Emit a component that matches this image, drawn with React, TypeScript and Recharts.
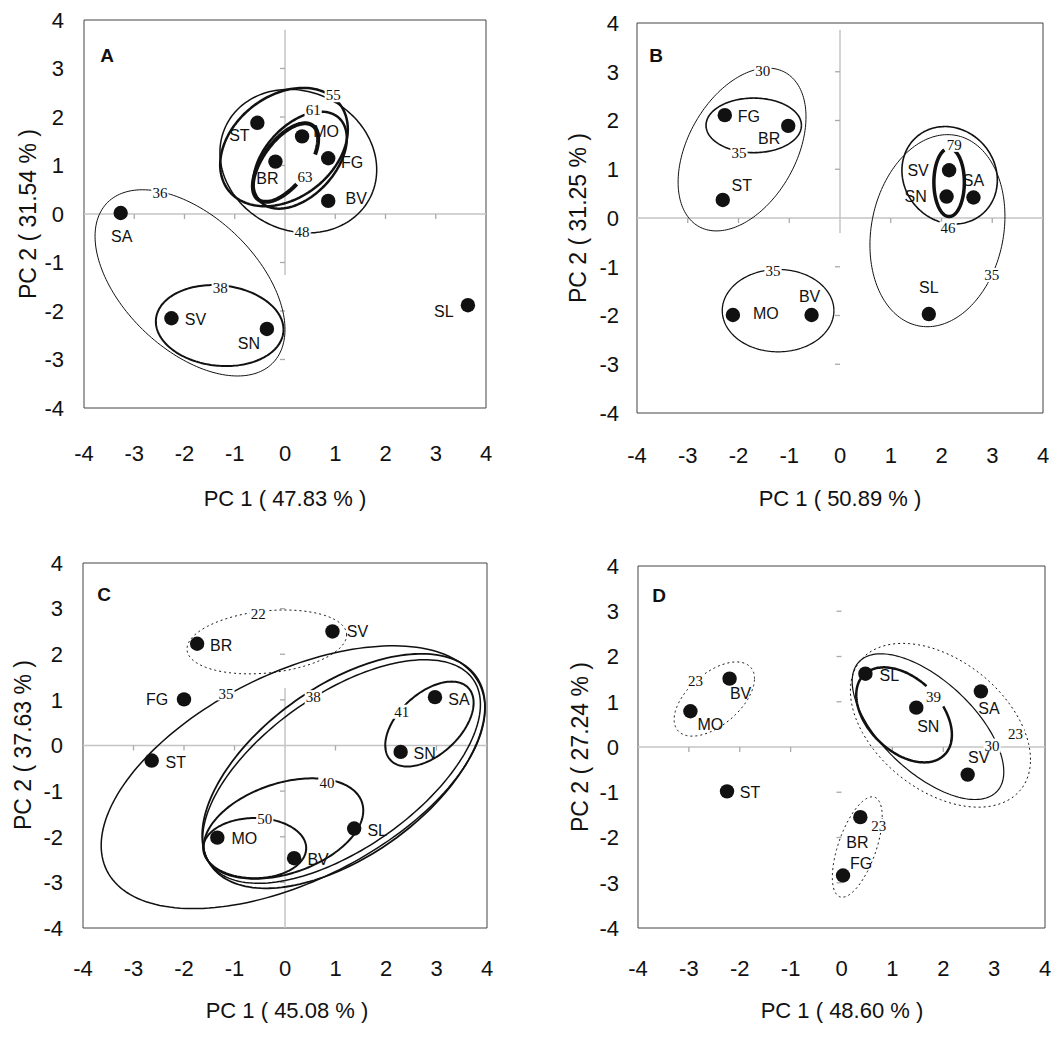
import React from 'react';
import { ScatterChart, Scatter, XAxis, YAxis, ReferenceArea, ReferenceLine } from 'recharts';

const TICKS = [-4, -3, -2, -1, 0, 1, 2, 3, 4];
const INNER_TICKS = [-3, -2, -1, 1, 2, 3];
const SANS = '"Liberation Sans", Arial, sans-serif';
const SERIF = '"Liberation Serif", "Times New Roman", serif';

// ---------- Panel A ----------
const A_names = ['ST', 'MO', 'BR', 'FG', 'BV', 'SA', 'SV', 'SN', 'SL'];
const A_pc1 = [-0.55, 0.34, -0.19, 0.86, 0.86, -3.27, -2.26, -0.36, 3.64];
const A_pc2 = [1.88, 1.6, 1.08, 1.15, 0.27, 0.02, -2.15, -2.37, -1.88];
const A_ellLabel = ['36', '38', '48', '55', '61', '63'];
const A_ellCx = [-1.89, -1.3, 0.265, -0.02, 0.3, 0.01];
const A_ellCy = [-1.42, -2.3, 1.09, 1.38, 1.11, 1.06];
const A_ellHw = [1.89, 1.27, 1.56, 1.27, 0.93, 0.65];
const A_ellHh = [1.92, 0.835, 1.48, 1.22, 1.0, 0.81];
const A_ellRho = [-0.5, -0.1, -0.12, 0.3, 0.45, 0.6];
const A_ellLx = [-2.49, -1.29, 0.34, 0.96, 0.56, 0.4];
const A_ellLy = [0.43, -1.52, -0.37, 2.45, 2.14, 0.77];

// ---------- Panel B ----------
const B_names = ['FG', 'BR', 'ST', 'MO', 'BV', 'SV', 'SN', 'SA', 'SL'];
const B_pc1 = [-2.27, -1.02, -2.31, -2.11, -0.56, 2.15, 2.1, 2.63, 1.75];
const B_pc2 = [2.11, 1.89, 0.37, -1.99, -1.99, 0.98, 0.44, 0.42, -1.97];
const B_ellLabel = ['30', '35', '35', '46', '79', '35'];
const B_ellCx = [-1.93, -1.7, -1.22, 2.16, 2.15, 1.92];
const B_ellCy = [1.405, 1.9, -1.9, 0.876, 0.73, -0.26];
const B_ellHw = [1.26, 0.94, 1.1, 0.94, 0.3, 1.33];
const B_ellHh = [1.67, 0.56, 0.845, 1.0, 0.7, 1.97];
const B_ellRho = [0.4, 0, 0, -0.1, 0, 0.15];
const B_ellLx = [-1.52, -1.99, -1.32, 2.13, 2.25, 2.99];
const B_ellLy = [3.02, 1.33, -1.09, -0.21, 1.5, -1.17];

// ---------- Panel C ----------
const C_names = ['BR', 'SV', 'FG', 'ST', 'SA', 'SN', 'MO', 'BV', 'SL'];
const C_pc1 = [-1.74, 0.94, -2.0, -2.64, 2.97, 2.29, -1.34, 0.18, 1.37];
const C_pc2 = [2.23, 2.5, 1.01, -0.33, 1.06, -0.14, -2.02, -2.47, -1.82];
const C_ellLabel = ['22', '35', '38', '', '40', '50', '41'];
const C_ellCx = [-0.36, 0.16, 1.16, 1.12, -0.03, -0.6, 2.86];
const C_ellCy = [2.27, -0.695, -0.56, -0.57, -1.82, -2.25, 0.47];
const C_ellHw = [1.58, 3.8, 2.8, 2.75, 1.58, 1.02, 0.875];
const C_ellHh = [0.7, 2.88, 2.57, 2.45, 1.1, 0.66, 0.93];
const C_ellRho = [0.22, 0.52, 0.55, 0.6, 0.36, 0, 0.5];
const C_ellLx = [-0.53, -1.17, 0.56, NaN, 0.83, -0.4, 2.31];
const C_ellLy = [2.88, 1.14, 1.06, NaN, -0.82, -1.6, 0.74];

// ---------- Panel D ----------
const D_names = ['BV', 'MO', 'ST', 'BR', 'FG', 'SL', 'SN', 'SA', 'SV'];
const D_pc1 = [-2.2, -2.97, -2.25, 0.37, 0.03, 0.47, 1.47, 2.74, 2.48];
const D_pc2 = [1.51, 0.79, -0.98, -1.55, -2.84, 1.62, 0.87, 1.23, -0.61];
const D_ellLabel = ['23', '23', '23', '30', '39'];
const D_ellCx = [-2.5, 0.31, 1.945, 1.7, 1.23];
const D_ellCy = [1.06, -2.21, 0.48, 0.45, 0.71];
const D_ellHw = [0.79, 0.49, 1.77, 1.49, 0.94];
const D_ellHh = [0.82, 1.11, 1.81, 1.61, 1.05];
const D_ellRho = [0.55, 0.6, -0.42, -0.62, -0.42];
const D_ellLx = [-2.87, 0.73, 3.42, 2.96, 1.81];
const D_ellLy = [1.47, -1.74, 0.29, 0.03, 1.1];

// ---------- styles (line widths / dash / gap in parameter degrees) ----------
type LineStyle = { w: number; dash?: string; gap?: [number, number] };
const A_style: LineStyle[] = [{ w: 1 }, { w: 2 }, { w: 1.5 }, { w: 2.5 }, { w: 2.5 }, { w: 4, gap: [-70, -25] }];
const B_style: LineStyle[] = [{ w: 1 }, { w: 1.6 }, { w: 1.3 }, { w: 1.6 }, { w: 3.5, gap: [72, 108] }, { w: 1 }];
const C_style: LineStyle[] = [{ w: 1, dash: '2 3' }, { w: 1.5 }, { w: 1.8 }, { w: 1.5 }, { w: 2 }, { w: 2 }, { w: 2 }];
const D_style: LineStyle[] = [{ w: 1, dash: '2 3' }, { w: 1, dash: '2 3' }, { w: 1, dash: '2 3' }, { w: 1.2 }, { w: 2.5, gap: [35, 62] }];

// label offsets of point names (px)
const A_off: Record<string, [number, number]> = { ST: [-18, 12], MO: [24, -5], BR: [-8, 17], FG: [24, 4], BV: [28, -3], SA: [1, 23], SV: [24, 1], SN: [-18, 14], SL: [-24, 6] };
const B_off: Record<string, [number, number]> = { FG: [24, 1], BR: [-19, 12], ST: [19, -15], MO: [33, -2], BV: [-2, -19], SV: [-31, 0], SN: [-31, 0], SA: [0, -17], SL: [0, -27] };
const C_off: Record<string, [number, number]> = { BR: [24, 1], SV: [25, 0], FG: [-27, 0], ST: [24, 2], SA: [24, 2], SN: [24, 1], MO: [27, 1], BV: [24, 1], SL: [23, 2] };
const D_off: Record<string, [number, number]> = { BV: [11, 15], MO: [20, 13], ST: [23, 1], BR: [-3, 25], FG: [18, -12], SL: [24, 2], SN: [12, 19], SA: [8, 17], SV: [11, -17] };

type Layout = {
  left: number; top: number; height: number; mTop: number; mRight: number;
  yW: number; xH: number; xTickMargin: number; yTickMargin: number;
  xTitle: [number, number]; yTitle: [number, number]; letterPos: [number, number];
  vSeg: [number, number] | null;
};

function ellipsePts(cx: number, cy: number, hw: number, hh: number, rho: number, gap?: [number, number]) {
  const s = Math.sqrt(1 - rho * rho);
  const start = gap ? gap[1] : 0;
  const end = gap ? gap[0] + 360 : 360;
  const n = 180;
  const pts: { x: number; y: number }[] = [];
  for (let i = 0; i <= n; i++) {
    const t = ((start + ((end - start) * i) / n) * Math.PI) / 180;
    pts.push({ x: cx + hw * Math.cos(t), y: cy + hh * (rho * Math.cos(t) + s * Math.sin(t)) });
  }
  return pts;
}

const Empty = () => <g />;

const EllLabel = (p: any) => {
  const txt: string = p.payload.text;
  const w = txt.length * 7.6 + 2;
  return (
    <g>
      <rect x={p.cx - w / 2} y={p.cy - 7} width={w} height={14} fill="#fff" />
      <text x={p.cx} y={p.cy} dy="0.35em" textAnchor="middle" fontFamily={SERIF} fontSize={15} fill="#111">{txt}</text>
    </g>
  );
};

const HTick = (p: any) => <line x1={p.cx} y1={p.cy} x2={p.cx} y2={p.cy + 5} stroke="#aaa" strokeWidth={1.3} />;
const VTick = (p: any) => <line x1={p.cx - 5} y1={p.cy} x2={p.cx} y2={p.cy} stroke="#aaa" strokeWidth={1.3} />;

type PanelProps = {
  letter: string; xTitle: string; yTitle: string; layout: Layout;
  names: string[]; pc1: number[]; pc2: number[]; off: Record<string, [number, number]>;
  eLabel: string[]; eCx: number[]; eCy: number[]; eHw: number[]; eHh: number[]; eRho: number[]; eLx: number[]; eLy: number[];
  styles: LineStyle[];
};

function Panel(props: PanelProps) {
  const L = props.layout;
  const pts = props.names.map((n, i) => ({ name: n, x: props.pc1[i], y: props.pc2[i] }));
  const labels = props.eLabel
    .map((t, i) => ({ text: t, x: props.eLx[i], y: props.eLy[i] }))
    .filter((d) => d.text !== '' && !isNaN(d.x));
  const hticks = INNER_TICKS.map((v) => ({ x: v, y: 0 }));
  const vticks = INNER_TICKS.map((v) => ({ x: 0, y: v }));
  const off = props.off;
  const DotShape = (p: any) => {
    const o = off[p.payload.name] || [20, 0];
    return (
      <g>
        <circle cx={p.cx} cy={p.cy} r={7.2} fill="#111" />
        <text x={p.cx + o[0]} y={p.cy + o[1]} dy="0.36em" textAnchor="middle" fontFamily={SANS} fontSize={16} fill="#111">{p.payload.name}</text>
      </g>
    );
  };
  const xLabel = () => (
    <text x={L.xTitle[0]} y={L.xTitle[1]} dy="0.36em" textAnchor="middle" fontFamily={SANS} fontSize={22} fill="#111">{props.xTitle}</text>
  );
  const yLabel = () => (
    <g>
      <text x={L.yTitle[0]} y={L.yTitle[1]} dy="0.36em" textAnchor="middle" fontFamily={SANS} fontSize={23} fill="#111" transform={`rotate(-90 ${L.yTitle[0]} ${L.yTitle[1]})`}>{props.yTitle}</text>
      <text x={L.letterPos[0]} y={L.letterPos[1]} dy="0.36em" textAnchor="middle" fontFamily={SANS} fontSize={19} fontWeight="bold" fill="#111">{props.letter}</text>
    </g>
  );
  return (
    <div style={{ position: 'absolute', left: L.left, top: L.top }}>
      <ScatterChart width={530} height={L.height} margin={{ top: L.mTop, right: L.mRight, bottom: 0, left: 0 }}>
        <XAxis type="number" dataKey="x" domain={[-4, 4]} ticks={TICKS} allowDataOverflow axisLine={false} tickLine={false} tickSize={0}
          tickMargin={L.xTickMargin} height={L.xH} interval={0} tick={{ fontSize: 22, fill: '#111', fontFamily: SANS }} label={xLabel} />
        <YAxis type="number" dataKey="y" domain={[-4, 4]} ticks={TICKS} allowDataOverflow axisLine={false} tickLine={false} tickSize={0}
          tickMargin={L.yTickMargin} width={L.yW} interval={0} tick={{ fontSize: 22, fill: '#111', fontFamily: SANS }} label={yLabel} />
        <ReferenceLine y={0} stroke="#c4c4c4" strokeWidth={1.5} />
        {L.vSeg && <ReferenceLine segment={[{ x: 0, y: L.vSeg[0] }, { x: 0, y: L.vSeg[1] }]} stroke="#c4c4c4" strokeWidth={1.5} />}
        <ReferenceArea x1={-4} x2={4} y1={-4} y2={4} fill="none" fillOpacity={0} stroke="#444" strokeWidth={1} />
        <Scatter data={hticks} shape={HTick} isAnimationActive={false} />
        <Scatter data={vticks} shape={VTick} isAnimationActive={false} />
        {props.eLabel.map((_, i) => {
          const st = props.styles[i];
          return (
            <Scatter key={'e' + i} data={ellipsePts(props.eCx[i], props.eCy[i], props.eHw[i], props.eHh[i], props.eRho[i], st.gap)}
              fill="#111" line={{ stroke: '#111', strokeWidth: st.w, strokeDasharray: st.dash, fill: 'none' }} lineType="joint"
              shape={Empty} isAnimationActive={false} />
          );
        })}
        <Scatter data={labels} shape={EllLabel} isAnimationActive={false} />
        <Scatter data={pts} shape={DotShape} isAnimationActive={false} />
      </ScatterChart>
    </div>
  );
}

const LA: Layout = { left: 0, top: 0, height: 520, mTop: 20, mRight: 44, yW: 84, xH: 112, xTickMargin: 37, yTickMargin: 20, xTitle: [285, 498], yTitle: [28, 214], letterPos: [107, 55], vSeg: [3.8, -1.26] };
const LB: Layout = { left: 530, top: 0, height: 520, mTop: 23, mRight: 17, yW: 107, xH: 107, xTickMargin: 34, yTickMargin: 18, xTitle: [310, 498], yTitle: [48, 218], letterPos: [126, 55], vSeg: [3.86, -0.31] };
const LC: Layout = { left: 0, top: 500, height: 558, mTop: 63, mRight: 43, yW: 83, xH: 130, xTickMargin: 32, yTickMargin: 20, xTitle: [287, 510], yTitle: [23, 245], letterPos: [104, 94], vSeg: [1.26, -4] };
const LD: Layout = { left: 530, top: 500, height: 558, mTop: 66, mRight: 15, yW: 108, xH: 130, xTickMargin: 32, yTickMargin: 19, xTitle: [312, 510], yTitle: [50, 247], letterPos: [129, 95], vSeg: null };

export default function App() {
  return (
    <div style={{ position: 'absolute', left: 0, top: 0, width: 1060, height: 1058, background: '#fff', overflow: 'hidden' }}>
      <Panel letter="A" xTitle="PC 1 ( 47.83 % )" yTitle="PC 2 ( 31.54 % )" layout={LA} names={A_names} pc1={A_pc1} pc2={A_pc2} off={A_off}
        eLabel={A_ellLabel} eCx={A_ellCx} eCy={A_ellCy} eHw={A_ellHw} eHh={A_ellHh} eRho={A_ellRho} eLx={A_ellLx} eLy={A_ellLy} styles={A_style} />
      <Panel letter="B" xTitle="PC 1 ( 50.89 % )" yTitle="PC 2 ( 31.25 % )" layout={LB} names={B_names} pc1={B_pc1} pc2={B_pc2} off={B_off}
        eLabel={B_ellLabel} eCx={B_ellCx} eCy={B_ellCy} eHw={B_ellHw} eHh={B_ellHh} eRho={B_ellRho} eLx={B_ellLx} eLy={B_ellLy} styles={B_style} />
      <Panel letter="C" xTitle="PC 1 ( 45.08 % )" yTitle="PC 2 ( 37.63 % )" layout={LC} names={C_names} pc1={C_pc1} pc2={C_pc2} off={C_off}
        eLabel={C_ellLabel} eCx={C_ellCx} eCy={C_ellCy} eHw={C_ellHw} eHh={C_ellHh} eRho={C_ellRho} eLx={C_ellLx} eLy={C_ellLy} styles={C_style} />
      <Panel letter="D" xTitle="PC 1 ( 48.60 % )" yTitle="PC 2 ( 27.24 % )" layout={LD} names={D_names} pc1={D_pc1} pc2={D_pc2} off={D_off}
        eLabel={D_ellLabel} eCx={D_ellCx} eCy={D_ellCy} eHw={D_ellHw} eHh={D_ellHh} eRho={D_ellRho} eLx={D_ellLx} eLy={D_ellLy} styles={D_style} />
    </div>
  );
}
